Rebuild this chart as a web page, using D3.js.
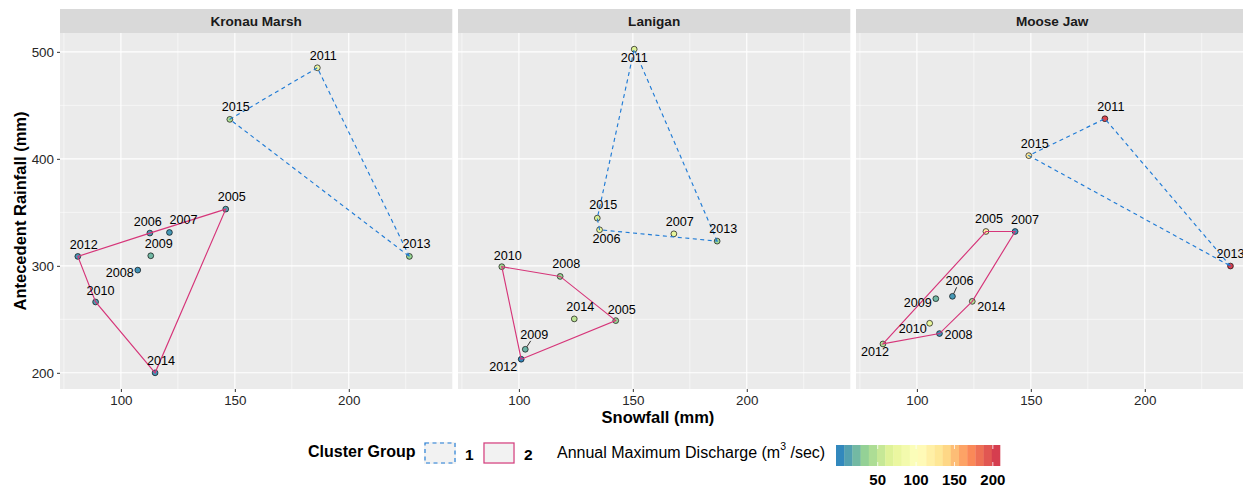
<!DOCTYPE html>
<html>
<head>
<meta charset="utf-8">
<script src="https://cdn.jsdelivr.net/npm/d3@7"></script>
<style>
  html, body { margin: 0; padding: 0; background: #ffffff; }
  svg { display: block; font-family: "Liberation Sans", Arial, Helvetica, sans-serif; }
</style>
</head>
<body>
<svg id="chart" width="1243" height="486"></svg>
<script>
// ---------------- DATA ----------------
const sites = ["Kronau Marsh", "Lanigan", "Moose Jaw"];
const years = [2005, 2006, 2007, 2008, 2009, 2010, 2011, 2012, 2013, 2014, 2015];

// Snowfall (mm), per site, by year 2005..2015
const snowKronau  = [146.0, 112.7, 121.3, 107.4, 113.1,  88.9, 186.2,  81.1, 226.6, 115.0, 147.8];
const snowLanigan = [142.5, 135.4, 168.0, 118.1, 102.8,  92.5, 150.6, 101.0, 187.0, 124.3, 134.4];
const snowMoose   = [130.3, 115.6, 143.1, 109.9, 108.3, 105.6, 182.5,  85.1, 237.6, 124.3, 149.1];

// Antecedent rainfall (mm)
const rainKronau  = [353.0, 330.6, 331.2, 296.0, 309.4, 266.2, 485.1, 308.8, 308.8, 200.0, 436.9];
const rainLanigan = [248.8, 333.7, 329.9, 290.1, 222.0, 299.2, 502.5, 212.7, 323.1, 250.4, 344.6];
const rainMoose   = [332.1, 271.5, 332.1, 236.7, 269.3, 246.3, 437.5, 227.0, 299.8, 266.8, 403.0];

// Cluster group
const clusterKronau  = [2, 2, 2, 2, 2, 2, 1, 2, 1, 2, 1];
const clusterLanigan = [2, 1, 1, 2, 2, 2, 1, 2, 1, 2, 1];
const clusterMoose   = [2, 2, 2, 2, 2, 2, 1, 2, 1, 2, 1];

// Annual maximum discharge (m3/sec)
const qKronau  = [12,   8,  8,  6, 22, 10,  80,  8,  35,  6,  45];
const qLanigan = [35,  75, 72, 35, 20, 40,  65,  1,  38, 50,  62];
const qMoose   = [122,  8,  5,  5, 22, 70, 200, 45, 204, 48, 125];

const xTicks = [100, 150, 200];
const yTicks = [200, 300, 400, 500];
const colorTicks = [50, 100, 150, 200];
const clusterLabels = ["1", "2"];

// ---------------- LAYOUT (label placement, pixels) ----------------
const labelNudge = {
  "Kronau Marsh": {2005:[6,-12],2006:[-2,-11],2007:[14,-12],2008:[-18,3],2009:[8,-12],2010:[5,-11],2011:[6,-12],2012:[6,-11],2013:[7,-12],2014:[6,-12],2015:[6,-12]},
  "Lanigan":      {2005:[6,-11],2006:[7,9],2007:[6,-12],2008:[6,-12],2009:[9,-14],2010:[6,-11],2011:[0,9],2012:[-18,8],2013:[6,-12],2014:[6,-12],2015:[6,-13]},
  "Moose Jaw":    {2005:[3,-12],2006:[7,-15],2007:[10,-11],2008:[19,1],2009:[-18,4],2010:[-17,6],2011:[6,-12],2012:[-8,8],2013:[0,-12],2014:[19,6],2015:[6,-12]}
};
const withSegment = {"Lanigan": [2009], "Moose Jaw": [2006]};

// ---------------- BUILD ----------------
const snow = [snowKronau, snowLanigan, snowMoose];
const rain = [rainKronau, rainLanigan, rainMoose];
const clus = [clusterKronau, clusterLanigan, clusterMoose];
const qq   = [qKronau, qLanigan, qMoose];

const rows = [];
sites.forEach((s, si) => years.forEach((yr, i) => rows.push({
  site: s, year: yr, snow: snow[si][i], rain: rain[si][i], cluster: clus[si][i], q: qq[si][i]
})));

const svg = d3.select("#chart");

const panelLeft0 = 60, panelW = 392.3, panelGap = 5.7;
const panelTop = 33, panelBottom = 389, stripTop = 9;

const allSnow = rows.map(d => d.snow), allRain = rows.map(d => d.rain);
const sx = d3.extent(allSnow), sy = d3.extent(allRain);
const xPad = (sx[1] - sx[0]) * 0.05, yPad = (sy[1] - sy[0]) * 0.05;

const x = d3.scaleLinear().domain([sx[0] - xPad, sx[1] + xPad]).range([0, panelW]);
const y = d3.scaleLinear().domain([sy[0] - yPad, sy[1] + yPad]).range([panelBottom, panelTop]);

const qExt = d3.extent(rows, d => d.q);
const spectral = ["#3288BD", "#99D594", "#E6F598", "#FFFFBF", "#FEE08B", "#FC8D59", "#D53E4F"];
const color = d3.scaleLinear()
  .domain(spectral.map((c, i) => qExt[0] + i * (qExt[1] - qExt[0]) / (spectral.length - 1)))
  .range(spectral).interpolate(d3.interpolateRgb).clamp(true);

const clusterStroke = {1: "#1F7BD6", 2: "#D63579"};
const clusterDash = {1: "4,3.5", 2: null};

const xMinor = [75, 125, 175, 225];
const yMinor = [250, 350, 450];

sites.forEach((site, si) => {
  const left = panelLeft0 + si * (panelW + panelGap);
  const g = svg.append("g").attr("transform", `translate(${left},0)`);

  // strip
  g.append("rect").attr("x", 0).attr("y", stripTop).attr("width", panelW).attr("height", panelTop - stripTop)
    .attr("fill", "#D9D9D9");
  g.append("text").attr("x", panelW / 2).attr("y", (stripTop + panelTop) / 2)
    .attr("text-anchor", "middle").attr("dominant-baseline", "central")
    .attr("font-size", "13.6px").attr("font-weight", "bold").attr("fill", "#1A1A1A").text(site);

  // panel background
  g.append("rect").attr("x", 0).attr("y", panelTop).attr("width", panelW).attr("height", panelBottom - panelTop)
    .attr("fill", "#EBEBEB");

  // grid
  const grid = g.append("g");
  xMinor.forEach(v => grid.append("line").attr("x1", x(v)).attr("x2", x(v)).attr("y1", panelTop).attr("y2", panelBottom)
    .attr("stroke", "#fff").attr("stroke-width", 0.55));
  yMinor.forEach(v => grid.append("line").attr("y1", y(v)).attr("y2", y(v)).attr("x1", 0).attr("x2", panelW)
    .attr("stroke", "#fff").attr("stroke-width", 0.55));
  xTicks.forEach(v => grid.append("line").attr("x1", x(v)).attr("x2", x(v)).attr("y1", panelTop).attr("y2", panelBottom)
    .attr("stroke", "#fff").attr("stroke-width", 1.1));
  yTicks.forEach(v => grid.append("line").attr("y1", y(v)).attr("y2", y(v)).attr("x1", 0).attr("x2", panelW)
    .attr("stroke", "#fff").attr("stroke-width", 1.1));

  // x axis
  const xa = g.append("g").attr("transform", `translate(0,${panelBottom})`)
    .call(d3.axisBottom(x).tickValues(xTicks).tickSize(3).tickPadding(3));
  xa.select(".domain").remove();
  xa.selectAll("line").attr("stroke", "#333");
  xa.selectAll("text").attr("font-size", "13.4px").attr("fill", "#262626").attr("font-family", null);

  if (si === 0) {
    const ya = g.append("g").call(d3.axisLeft(y).tickValues(yTicks).tickSize(3).tickPadding(3));
    ya.select(".domain").remove();
    ya.selectAll("line").attr("stroke", "#333");
    ya.selectAll("text").attr("font-size", "13.4px").attr("fill", "#262626").attr("font-family", null);
  }

  const data = rows.filter(d => d.site === site);
  const layer = g.append("g");

  // points
  layer.selectAll("circle").data(data).join("circle")
    .attr("cx", d => x(d.snow)).attr("cy", d => y(d.rain)).attr("r", 2.9)
    .attr("fill", d => color(d.q)).attr("stroke", "#000").attr("stroke-width", 0.65);

  // hulls
  [1, 2].forEach(c => {
    const pts = data.filter(d => d.cluster === c).map(d => [x(d.snow), y(d.rain)]);
    const hull = d3.polygonHull(pts);
    if (!hull) return;
    layer.append("path").attr("d", "M" + hull.map(p => p.join(",")).join("L") + "Z")
      .attr("fill", "none").attr("stroke", clusterStroke[c]).attr("stroke-width", 1.15)
      .attr("stroke-dasharray", clusterDash[c]);
  });

  // label segments
  (withSegment[site] || []).forEach(yr => {
    const d = data.find(r => r.year === yr);
    const n = labelNudge[site][yr];
    const px = x(d.snow), py = y(d.rain);
    const len = Math.hypot(n[0], n[1]);
    const ux = n[0] / len, uy = n[1] / len;
    layer.append("line").attr("x1", px + ux * 3).attr("y1", py + uy * 3)
      .attr("x2", px + n[0] * 0.6).attr("y2", py + n[1] * 0.6)
      .attr("stroke", "#000").attr("stroke-width", 0.8);
  });

  // labels
  layer.selectAll("text.lbl").data(data).join("text").attr("class", "lbl")
    .attr("x", d => x(d.snow) + labelNudge[site][d.year][0])
    .attr("y", d => y(d.rain) + labelNudge[site][d.year][1])
    .attr("text-anchor", "middle").attr("dominant-baseline", "central")
    .attr("font-size", "12.6px").attr("fill", "#000").text(d => d.year);
});

// axis titles
svg.append("text").attr("x", 658).attr("y", 417).attr("text-anchor", "middle").attr("dominant-baseline", "central")
  .attr("font-size", "16.5px").attr("font-weight", "bold").attr("fill", "#000").text("Snowfall (mm)");
svg.append("text").attr("transform", `translate(20,${(panelTop + panelBottom) / 2}) rotate(-90)`)
  .attr("text-anchor", "middle").attr("dominant-baseline", "central")
  .attr("font-size", "16.5px").attr("font-weight", "bold").attr("fill", "#000").text("Antecedent Rainfall (mm)");

// ---------------- LEGENDS ----------------
const leg = svg.append("g");
leg.append("text").attr("x", 308).attr("y", 451).attr("dominant-baseline", "central")
  .attr("font-size", "16px").attr("font-weight", "bold").attr("fill", "#000").text("Cluster Group");

const keyX = [424, 483], keyW = 32, keyY = 442, keyH = 22;
clusterLabels.forEach((lab, i) => {
  const c = i + 1;
  leg.append("rect").attr("x", keyX[i]).attr("y", keyY).attr("width", keyW).attr("height", keyH).attr("fill", "#F2F2F2");
  leg.append("rect").attr("x", keyX[i] + 1).attr("y", keyY + 1).attr("width", keyW - 2).attr("height", keyH - 2)
    .attr("fill", "#F2F2F2").attr("stroke", clusterStroke[c]).attr("stroke-width", 1.15)
    .attr("stroke-dasharray", clusterDash[c]);
  leg.append("text").attr("x", keyX[i] + keyW + 9).attr("y", keyY + keyH / 2 + 1).attr("dominant-baseline", "central")
    .attr("font-size", "15.5px").attr("font-weight", "bold").attr("fill", "#000").text(lab);
});

const ct = leg.append("text").attr("x", 557).attr("y", 452).attr("dominant-baseline", "central")
  .attr("font-size", "16px").attr("fill", "#000");
ct.append("tspan").text("Annual Maximum Discharge (m");
ct.append("tspan").attr("dy", -6).attr("font-size", "10.5px").text("3");
ct.append("tspan").attr("dy", 6).text(" /sec)");

// colour bar (20 bins, ggplot-style)
const barX0 = 836, barX1 = 1000, barY = 445, barH = 21, nbin = 20;
const binW = (barX1 - barX0) / nbin;
const binVals = d3.range(nbin).map(i => qExt[0] + i * (qExt[1] - qExt[0]) / (nbin - 1));
leg.selectAll("rect.bin").data(binVals).join("rect").attr("class", "bin")
  .attr("x", (d, i) => barX0 + i * binW).attr("y", barY).attr("width", binW + 0.3).attr("height", barH)
  .attr("fill", d => color(d));
const cbScale = d3.scaleLinear().domain(qExt).range([barX0 + binW / 2, barX1 - binW / 2]);
colorTicks.forEach(v => {
  const px = cbScale(v);
  leg.append("line").attr("x1", px).attr("x2", px).attr("y1", barY).attr("y2", barY + 4).attr("stroke", "#fff").attr("stroke-width", 0.8);
  leg.append("line").attr("x1", px).attr("x2", px).attr("y1", barY + barH - 4).attr("y2", barY + barH).attr("stroke", "#fff").attr("stroke-width", 0.8);
  leg.append("text").attr("x", px).attr("y", 479).attr("text-anchor", "middle").attr("dominant-baseline", "central")
    .attr("font-size", "15px").attr("font-weight", "bold").attr("fill", "#000").text(v);
});
</script>
</body>
</html>
